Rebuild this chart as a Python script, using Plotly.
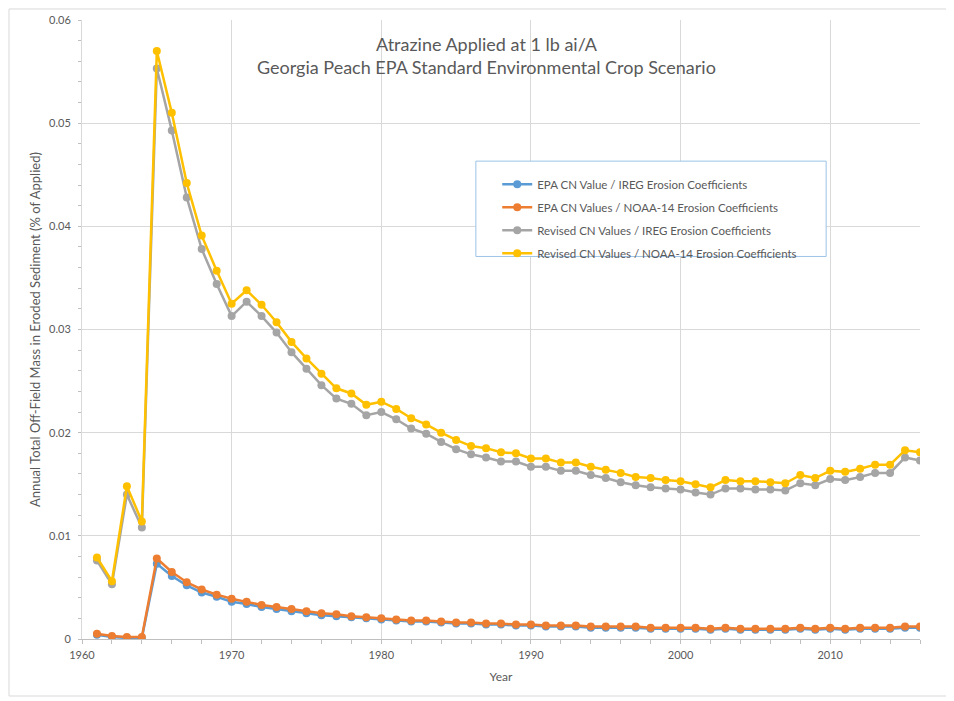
import plotly.graph_objects as go

years = [1961, 1962, 1963, 1964, 1965, 1966, 1967, 1968, 1969, 1970,
         1971, 1972, 1973, 1974, 1975, 1976, 1977, 1978, 1979, 1980,
         1981, 1982, 1983, 1984, 1985, 1986, 1987, 1988, 1989, 1990,
         1991, 1992, 1993, 1994, 1995, 1996, 1997, 1998, 1999, 2000,
         2001, 2002, 2003, 2004, 2005, 2006, 2007, 2008, 2009, 2010,
         2011, 2012, 2013, 2014, 2015, 2016]

epa_ireg = [0.0004, 0.0002, 0.0001, 0.0001, 0.0073, 0.0061, 0.0052, 0.0045, 0.0041, 0.0036,
            0.0034, 0.0031, 0.0029, 0.0027, 0.0025, 0.0023, 0.0022, 0.0021, 0.0020, 0.0019,
            0.0018, 0.0017, 0.0017, 0.0016, 0.0015, 0.0015, 0.0014, 0.0014, 0.0013, 0.0013,
            0.0012, 0.0012, 0.0012, 0.0011, 0.0011, 0.0011, 0.0011, 0.0010, 0.0010, 0.0010,
            0.0010, 0.0009, 0.0010, 0.0009, 0.0009, 0.0009, 0.0009, 0.0010, 0.0009, 0.0010,
            0.0009, 0.0010, 0.0010, 0.0010, 0.0011, 0.0011]

epa_noaa = [0.0005, 0.0003, 0.0002, 0.0002, 0.0078, 0.0065, 0.0055, 0.0048, 0.0043, 0.0039,
            0.0036, 0.0033, 0.0031, 0.0029, 0.0027, 0.0025, 0.0024, 0.0022, 0.0021, 0.0020,
            0.0019, 0.0018, 0.0018, 0.0017, 0.0016, 0.0016, 0.0015, 0.0015, 0.0014, 0.0014,
            0.0013, 0.0013, 0.0013, 0.0012, 0.0012, 0.0012, 0.0012, 0.0011, 0.0011, 0.0011,
            0.0011, 0.0010, 0.0011, 0.0010, 0.0010, 0.0010, 0.0010, 0.0011, 0.0010, 0.0011,
            0.0010, 0.0011, 0.0011, 0.0011, 0.0012, 0.0012]

rev_ireg = [0.0076, 0.0053, 0.0140, 0.0108, 0.0553, 0.0493, 0.0428, 0.0378, 0.0344, 0.0313,
            0.0327, 0.0313, 0.0297, 0.0278, 0.0262, 0.0246, 0.0233, 0.0228, 0.0217, 0.0220,
            0.0213, 0.0204, 0.0199, 0.0191, 0.0184, 0.0179, 0.0176, 0.0172, 0.0172, 0.0167,
            0.0167, 0.0163, 0.0163, 0.0159, 0.0156, 0.0152, 0.0149, 0.0147, 0.0146, 0.0145,
            0.0142, 0.0140, 0.0146, 0.0146, 0.0145, 0.0145, 0.0144, 0.0151, 0.0149, 0.0155,
            0.0154, 0.0157, 0.0161, 0.0161, 0.0176, 0.0173]

rev_noaa = [0.0079, 0.0056, 0.0148, 0.0114, 0.0570, 0.0510, 0.0442, 0.0391, 0.0357, 0.0325,
            0.0338, 0.0324, 0.0307, 0.0288, 0.0272, 0.0257, 0.0243, 0.0238, 0.0227, 0.0230,
            0.0223, 0.0214, 0.0208, 0.0200, 0.0193, 0.0187, 0.0185, 0.0181, 0.0180, 0.0175,
            0.0175, 0.0171, 0.0171, 0.0167, 0.0164, 0.0161, 0.0157, 0.0156, 0.0154, 0.0153,
            0.0150, 0.0147, 0.0154, 0.0153, 0.0153, 0.0152, 0.0151, 0.0159, 0.0156, 0.0163,
            0.0162, 0.0165, 0.0169, 0.0169, 0.0183, 0.0181]

series_names = ["EPA CN Value / IREG Erosion Coefficients",
                "EPA CN Values / NOAA-14 Erosion Coefficients",
                "Revised CN Values / IREG Erosion Coefficients",
                "Revised CN Values / NOAA-14 Erosion Coefficients"]
series_values = [epa_ireg, epa_noaa, rev_ireg, rev_noaa]
series_colors = ["#5B9BD5", "#ED7D31", "#A5A5A5", "#FFC000"]

x_ticks = [1960, 1970, 1980, 1990, 2000, 2010]
y_ticks = [0, 0.01, 0.02, 0.03, 0.04, 0.05, 0.06]
y_ticklabels = ["0", "0.01", "0.02", "0.03", "0.04", "0.05", "0.06"]

title_lines = ["Atrazine Applied at 1 lb ai/A",
               "Georgia Peach EPA Standard Environmental Crop Scenario"]

FONT = "Lato, 'Open Sans', sans-serif"
TXT = "#595959"

fig = go.Figure()
for name, vals, col in zip(series_names, series_values, series_colors):
    fig.add_trace(go.Scatter(
        x=years, y=vals, name=name, mode="lines+markers",
        line=dict(color=col, width=2.5),
        marker=dict(color=col, size=8),
        legendgroup=name,
    ))

fig.update_layout(
    width=942, height=690,
    margin=dict(l=74, r=30, t=12, b=59),
    paper_bgcolor="white", plot_bgcolor="white",
    font=dict(family=FONT, size=11, color=TXT),
    showlegend=True,
    legend=dict(
        x=0.4955, y=0.758, xanchor="left", yanchor="top",
        bgcolor="rgba(0,0,0,0)", borderwidth=0,
        font=dict(family=FONT, size=11.5, color=TXT),
        tracegroupgap=4, itemwidth=30,
    ),
    xaxis=dict(
        range=[1960, 2016], tickvals=x_ticks, ticktext=[str(v) for v in x_ticks],
        automargin=False,
        showgrid=True, gridcolor="#D9D9D9", gridwidth=1,
        showline=True, linecolor="#BFBFBF", linewidth=1,
        zeroline=False, ticks="", ticklabelstandoff=6,
        minor=dict(dtick=2, ticks="outside", ticklen=4, tickcolor="#BFBFBF", showgrid=False),
        title=dict(text="Year", font=dict(family=FONT, size=12, color=TXT), standoff=12),
        tickfont=dict(family=FONT, size=11, color=TXT),
    ),
    yaxis=dict(
        range=[0, 0.06], tickvals=y_ticks, ticktext=y_ticklabels,
        automargin=False,
        showgrid=True, gridcolor="#D9D9D9", gridwidth=1,
        showline=True, linecolor="#D9D9D9", linewidth=1,
        zeroline=False, ticks="", ticklabelstandoff=8,
        minor=dict(dtick=0.002, ticks="outside", ticklen=3, tickcolor="#BFBFBF", showgrid=False),
        title=dict(text="Annual Total Off-Field Mass in Eroded Sediment (% of Applied)",
                   font=dict(family=FONT, size=13, color=TXT), standoff=5),
        tickfont=dict(family=FONT, size=11, color=TXT),
    ),
    shapes=[
        # legend box
        dict(type="rect", xref="paper", yref="paper",
             x0=0.470, x1=0.888, y0=0.618, y1=0.772,
             line=dict(color="#9DC3E6", width=1), fillcolor="white", layer="above"),
        # outer chart border
        dict(type="rect", xref="paper", yref="paper",
             x0=-0.0871, x1=1.0322, y0=-0.0921, y1=1.0178,
             line=dict(color="#D9D9D9", width=1), fillcolor="rgba(0,0,0,0)", layer="below"),
    ],
    annotations=[
        dict(text=title_lines[0], xref="paper", yref="paper", x=0.483, y=0.961,
             showarrow=False, xanchor="center", yanchor="middle",
             font=dict(family=FONT, size=18, color=TXT)),
        dict(text=title_lines[1], xref="paper", yref="paper", x=0.483, y=0.924,
             showarrow=False, xanchor="center", yanchor="middle",
             font=dict(family=FONT, size=18, color=TXT)),
    ],
)

fig.write_html("out.html")
